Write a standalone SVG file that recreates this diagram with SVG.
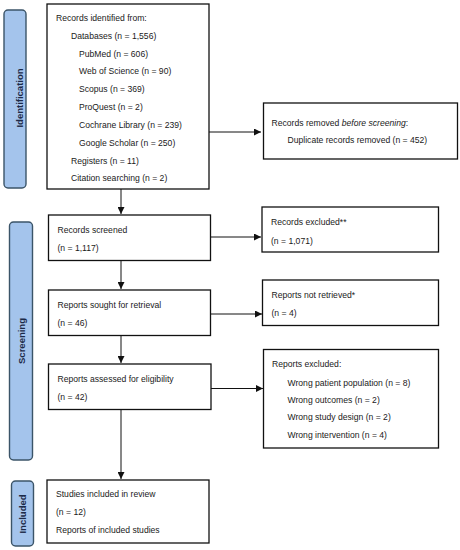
<svg xmlns="http://www.w3.org/2000/svg" width="460" height="550" viewBox="0 0 460 550">
<style>
.bg{fill:#ffffff}
.box{fill:#ffffff;stroke:#111;stroke-width:1.3}
.side{fill:#a4c4ec;stroke:#3b5468;stroke-width:1.4}
.t{font-family:"Liberation Sans",Arial,sans-serif;font-size:8.6px;fill:#1a1a1a}
.st{font-family:"Liberation Sans",Arial,sans-serif;font-size:9.5px;font-weight:bold;fill:#1c2a48;text-anchor:middle}
.c{stroke:#111;stroke-width:1;fill:none}
</style>
<defs>
<marker id="ah" viewBox="0 0 10 10" refX="10" refY="5" markerWidth="7" markerHeight="7" markerUnits="userSpaceOnUse" orient="auto">
<path d="M0,0 L10,5 L0,10 z" fill="#111"/>
</marker>
</defs>
<rect class="bg" x="0" y="0" width="460" height="550"/>

<g id="side-identification">
<rect class="side" x="4" y="10" width="22" height="178" rx="4"/>
<text class="st" transform="translate(23,98) rotate(-90)">Identification</text>
</g>
<g id="side-screening">
<rect class="side" x="9.5" y="222" width="23" height="238" rx="4"/>
<text class="st" transform="translate(24.5,341) rotate(-90)">Screening</text>
</g>
<g id="side-included">
<rect class="side" x="11.5" y="481" width="22" height="65" rx="4"/>
<text class="st" transform="translate(25.5,514) rotate(-90)">Included</text>
</g>

<g id="connectors">
<line class="c" x1="121" y1="189" x2="121" y2="214" marker-end="url(#ah)"/>
<line class="c" x1="209" y1="132" x2="261" y2="132" marker-end="url(#ah)"/>
<line class="c" x1="210.5" y1="237" x2="261" y2="237" marker-end="url(#ah)"/>
<line class="c" x1="121" y1="261" x2="121" y2="289" marker-end="url(#ah)"/>
<line class="c" x1="210.5" y1="314" x2="262" y2="314" marker-end="url(#ah)"/>
<line class="c" x1="121" y1="336" x2="121" y2="363" marker-end="url(#ah)"/>
<line class="c" x1="211" y1="388.5" x2="263" y2="388.5" marker-end="url(#ah)"/>
<line class="c" x1="121" y1="409.5" x2="121" y2="479" marker-end="url(#ah)"/>
</g>

<g id="records-identified">
<rect class="box" x="47" y="4" width="162" height="185"/>
<text class="t" x="56" y="21">Records identified from:</text>
<text class="t" x="71" y="38.5">Databases (n = 1,556)</text>
<text class="t" x="79" y="56.5">PubMed (n = 606)</text>
<text class="t" x="79" y="74">Web of Science (n = 90)</text>
<text class="t" x="79" y="92">Scopus (n = 369)</text>
<text class="t" x="79" y="110">ProQuest (n = 2)</text>
<text class="t" x="79" y="128">Cochrane Library (n = 239)</text>
<text class="t" x="79" y="146">Google Scholar (n = 250)</text>
<text class="t" x="71" y="163.5">Registers (n = 11)</text>
<text class="t" x="71" y="181">Citation searching (n = 2)</text>
</g>

<g id="records-removed">
<rect class="box" x="263.5" y="103" width="194" height="56"/>
<text class="t" x="271.5" y="125.5">Records removed <tspan font-style="italic">before screening</tspan>:</text>
<text class="t" x="287.5" y="143">Duplicate records removed (n = 452)</text>
</g>

<g id="records-screened">
<rect class="box" x="48.5" y="215" width="162" height="45.5"/>
<text class="t" x="57.5" y="233">Records screened</text>
<text class="t" x="57.5" y="250.5">(n = 1,117)</text>
</g>

<g id="records-excluded">
<rect class="box" x="262" y="207" width="176.5" height="45"/>
<text class="t" x="271" y="224.5">Records excluded**</text>
<text class="t" x="271" y="243.5">(n = 1,071)</text>
</g>

<g id="reports-sought">
<rect class="box" x="48.5" y="290" width="162" height="45.5"/>
<text class="t" x="57.5" y="308">Reports sought for retrieval</text>
<text class="t" x="57.5" y="325.5">(n = 46)</text>
</g>

<g id="reports-not-retrieved">
<rect class="box" x="262.5" y="280" width="176" height="45.5"/>
<text class="t" x="271.5" y="297.5">Reports not retrieved*</text>
<text class="t" x="271.5" y="315.5">(n = 4)</text>
</g>

<g id="reports-assessed">
<rect class="box" x="48.5" y="364" width="162.5" height="45.5"/>
<text class="t" x="57.5" y="382">Reports assessed for eligibility</text>
<text class="t" x="57.5" y="399.5">(n = 42)</text>
</g>

<g id="reports-excluded">
<rect class="box" x="263.5" y="349.5" width="175" height="98.5"/>
<text class="t" x="272" y="367">Reports excluded:</text>
<text class="t" x="287.5" y="385.5">Wrong patient population (n = 8)</text>
<text class="t" x="287.5" y="403">Wrong outcomes (n = 2)</text>
<text class="t" x="287.5" y="420">Wrong study design (n = 2)</text>
<text class="t" x="287.5" y="437.5">Wrong intervention (n = 4)</text>
</g>

<g id="studies-included">
<rect class="box" x="47" y="480" width="162" height="63"/>
<text class="t" x="56" y="497">Studies included in review</text>
<text class="t" x="56" y="515">(n = 12)</text>
<text class="t" x="56" y="533">Reports of included studies</text>
</g>
</svg>
